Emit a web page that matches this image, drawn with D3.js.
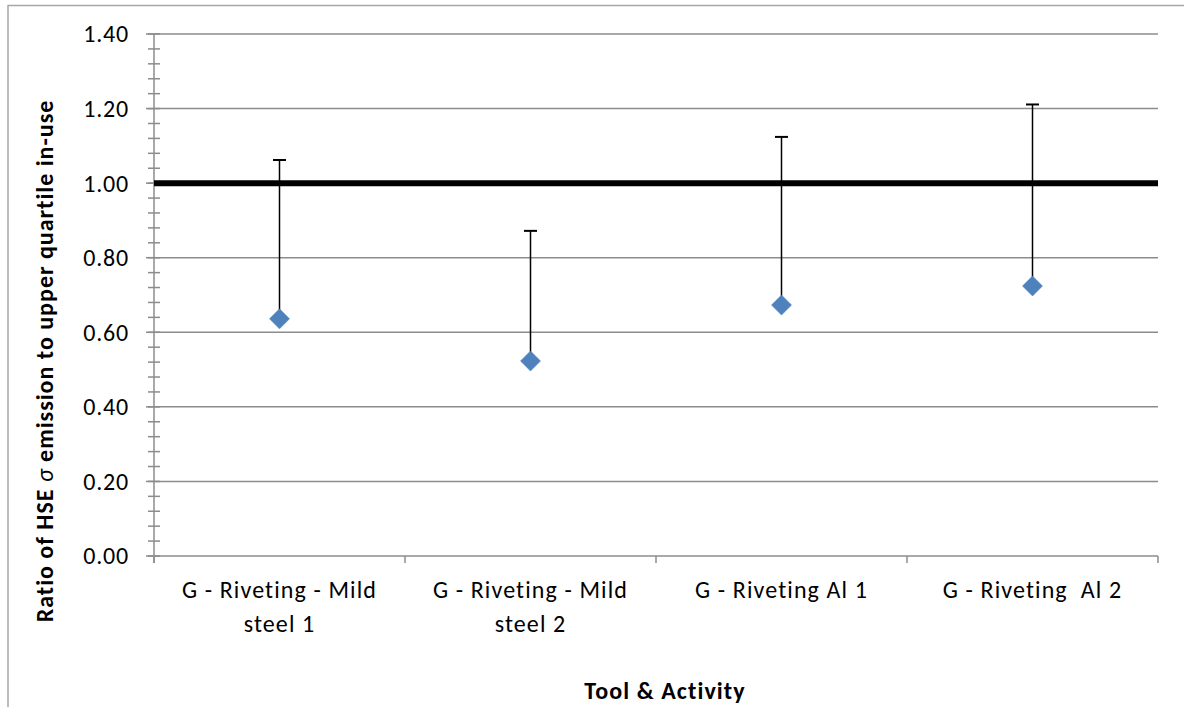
<!DOCTYPE html>
<html>
<head>
<meta charset="utf-8">
<script src="https://cdn.jsdelivr.net/npm/d3@7"></script>
<style>
  html, body { margin: 0; padding: 0; background: #fff; }
  svg { display: block; font-family: Carlito, Lato, "Open Sans", sans-serif; }
  text { white-space: pre; }
</style>
</head>
<body>
<svg id="chart" width="1184" height="707"></svg>
<script>
// Categories and series values
const categories = [
  ["G - Riveting - Mild", "steel 1"],
  ["G - Riveting - Mild", "steel 2"],
  ["G - Riveting Al 1"],
  ["G - Riveting  Al 2"]
];
const ratios = [0.636, 0.523, 0.673, 0.724];
const upperBounds = [1.062, 0.872, 1.124, 1.211];
const referenceValue = 1.00;
const yTicks = [0, 0.2, 0.4, 0.6, 0.8, 1.0, 1.2, 1.4];
const yMinorTicks = d3.range(0, 1.4001, 0.04);

const svg = d3.select("#chart");
const W = 1184, H = 707;
const plot = { left: 154, right: 1158, top: 34, bottom: 556 };
const gridColor = "#8c8c8c";

// outer frame (top and left edges visible)
svg.append("line").attr("x1", 8).attr("x2", W).attr("y1", 5.5).attr("y2", 5.5)
  .attr("stroke", "#a6a6a6").attr("stroke-width", 1.5);
svg.append("line").attr("x1", 8).attr("x2", 8).attr("y1", 5).attr("y2", H)
  .attr("stroke", "#a6a6a6").attr("stroke-width", 1.5);

const x = d3.scaleBand().domain(d3.range(categories.length))
  .range([plot.left, plot.right]).paddingInner(0).paddingOuter(0);
const y = d3.scaleLinear().domain([0, 1.4]).range([plot.bottom, plot.top]);

// horizontal gridlines
svg.append("g").selectAll("line").data(yTicks.filter(d => d > 0)).join("line")
  .attr("x1", plot.left).attr("x2", plot.right)
  .attr("y1", d => y(d)).attr("y2", d => y(d))
  .attr("stroke", gridColor).attr("stroke-width", 1.5);

// y axis: line, major ticks (outside), minor ticks (crossing)
const yAxisG = svg.append("g");
yAxisG.append("line").attr("x1", plot.left).attr("x2", plot.left)
  .attr("y1", plot.top).attr("y2", plot.bottom + 7)
  .attr("stroke", gridColor).attr("stroke-width", 1.5);
yAxisG.selectAll("line.minor").data(yMinorTicks).join("line").attr("class", "minor")
  .attr("x1", plot.left - 6).attr("x2", plot.left + 6)
  .attr("y1", d => y(d)).attr("y2", d => y(d))
  .attr("stroke", gridColor).attr("stroke-width", 1.5);
yAxisG.selectAll("line.major").data(yTicks).join("line").attr("class", "major")
  .attr("x1", plot.left - 8).attr("x2", plot.left)
  .attr("y1", d => y(d)).attr("y2", d => y(d))
  .attr("stroke", gridColor).attr("stroke-width", 1.5);
yAxisG.selectAll("text").data(yTicks).join("text")
  .attr("x", 129).attr("y", d => y(d)).attr("dy", "0.35em")
  .attr("text-anchor", "end").attr("font-size", 24).attr("letter-spacing", 0.8)
  .attr("fill", "#000")
  .text(d3.format(".2f"));

// x axis: baseline and category boundary ticks
const xAxisG = svg.append("g");
xAxisG.append("line").attr("x1", plot.left).attr("x2", plot.right)
  .attr("y1", plot.bottom).attr("y2", plot.bottom)
  .attr("stroke", gridColor).attr("stroke-width", 1.5);
const boundaries = d3.range(categories.length + 1).map(i =>
  i < categories.length ? x(i) : x(categories.length - 1) + x.bandwidth());
xAxisG.selectAll("line.tick").data(boundaries).join("line").attr("class", "tick")
  .attr("x1", d => d).attr("x2", d => d)
  .attr("y1", plot.bottom).attr("y2", plot.bottom + 7)
  .attr("stroke", gridColor).attr("stroke-width", 1.5);
const catText = xAxisG.selectAll("text").data(categories).join("text")
  .attr("x", (d, i) => x(i) + x.bandwidth() / 2)
  .attr("y", 598).attr("text-anchor", "middle")
  .attr("font-size", 24).attr("letter-spacing", 1.1).attr("fill", "#000");
catText.selectAll("tspan").data(d => d).join("tspan")
  .attr("x", function () { return this.parentNode.getAttribute("x"); })
  .attr("dy", (d, i) => i === 0 ? 0 : 34)
  .text(d => d);

// reference line at 1.00
svg.append("line").attr("x1", plot.left).attr("x2", plot.right)
  .attr("y1", y(referenceValue)).attr("y2", y(referenceValue))
  .attr("stroke", "#000").attr("stroke-width", 6);

// upper error bars
const errG = svg.append("g");
errG.selectAll("line.stem").data(ratios).join("line").attr("class", "stem")
  .attr("x1", (d, i) => x(i) + x.bandwidth() / 2).attr("x2", (d, i) => x(i) + x.bandwidth() / 2)
  .attr("y1", d => y(d)).attr("y2", (d, i) => y(upperBounds[i]))
  .attr("stroke", "#000").attr("stroke-width", 1.5);
errG.selectAll("line.cap").data(upperBounds).join("line").attr("class", "cap")
  .attr("x1", (d, i) => x(i) + x.bandwidth() / 2 - 6.5).attr("x2", (d, i) => x(i) + x.bandwidth() / 2 + 6.5)
  .attr("y1", d => y(d)).attr("y2", d => y(d))
  .attr("stroke", "#000").attr("stroke-width", 2);

// diamond markers
const diamond = d3.symbol().type(d3.symbolSquare).size(200);
svg.append("g").selectAll("path").data(ratios).join("path")
  .attr("d", diamond)
  .attr("transform", (d, i) => `translate(${x(i) + x.bandwidth() / 2},${y(d)}) rotate(45)`)
  .attr("fill", "#4f81bd").attr("stroke", "#4a7ebb").attr("stroke-width", 0.5);

// axis titles
svg.append("text").attr("x", 665).attr("y", 699)
  .attr("text-anchor", "middle").attr("font-size", 24).attr("font-weight", "bold")
  .attr("letter-spacing", 1.1)
  .text("Tool & Activity");
const yTitle = svg.append("text")
  .attr("transform", "translate(53,361) rotate(-90)")
  .attr("text-anchor", "middle").attr("font-size", 24).attr("font-weight", "bold")
  .attr("letter-spacing", 1.0);
yTitle.append("tspan").text("Ratio of HSE ");
yTitle.append("tspan").attr("font-style", "italic").attr("font-weight", "normal").text("σ");
yTitle.append("tspan").text(" emission to upper quartile in-use");
</script>
</body>
</html>
